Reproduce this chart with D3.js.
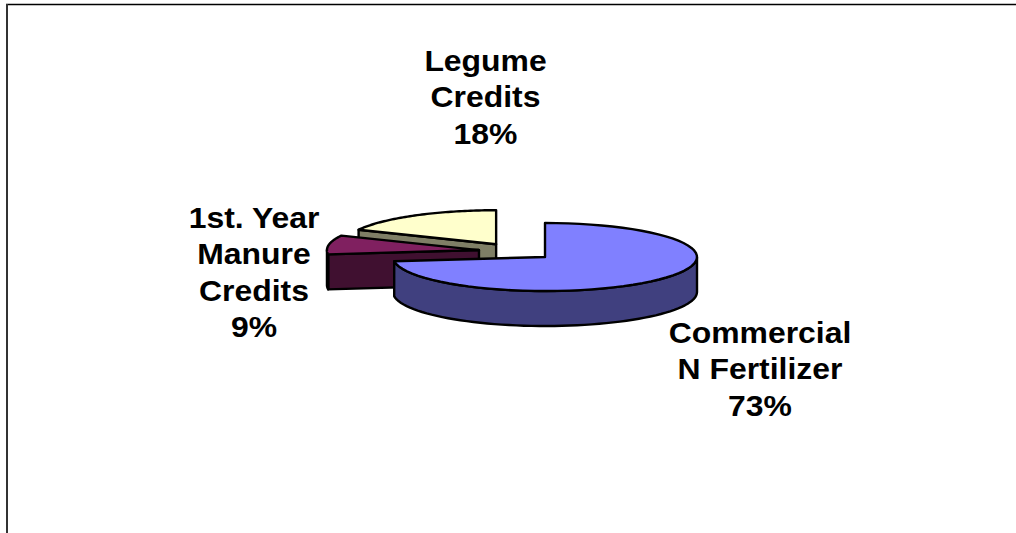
<!DOCTYPE html>
<html>
<head>
<meta charset="utf-8">
<script src="https://cdn.jsdelivr.net/npm/d3@7"></script>
<style>
  html, body { margin: 0; padding: 0; background: #fff; }
  svg { display: block; }
  text { font-family: "Liberation Sans", Arial, sans-serif; font-weight: bold; fill: #000; }
</style>
</head>
<body>
<div id="app"></div>
<script>
const width = 1016
const height = 533

// data, in the order the slices run clockwise from 12 o'clock
const categories = ['Commercial N Fertilizer', '1st. Year Manure Credits', 'Legume Credits']
const percents = [73, 9, 18]
const labelLines = [['Commercial', 'N Fertilizer', '73%'], ['1st. Year', 'Manure', 'Credits', '9%'], ['Legume', 'Credits', '18%']]
const topColors = ['#8080ff', '#802060', '#ffffcc']
const sideColors = ['#40407f', '#401030', '#7f7f66']

// where the middle of each label sits
const labelX = [760, 254, 485.5]
const labelY = [315, 200, 43]

const lineHeight = 36.5
const fontSize = 29
const textStretch = 1.1 // the labels in the picture are a bit wider than the font

// pie geometry
const center = { x: 516.5, y: 251.4 }
const rx = 152
const ry = 34
const depth = 35
const explode = 0.25

const svg = d3.select('#app').append('svg')
    .attr('width', width)
    .attr('height', height)

// frame, only the top and left edges are in the picture
svg.append('path')
    .attr('d', `M6,4.5H${width}`)
    .attr('fill', 'none')
    .attr('stroke', '#000')
    .attr('stroke-width', 1.5)
svg.append('path')
    .attr('d', `M7,4V${height}`)
    .attr('fill', 'none')
    .attr('stroke', '#333')
    .attr('stroke-width', 2)

// unit circle --> squashed ellipse on the page
const xScale = d3.scaleLinear().domain([-1, 1]).range([center.x - rx, center.x + rx])
const yScale = d3.scaleLinear().domain([-1, 1]).range([center.y - ry, center.y + ry])
const line = d3.line().x(d => d[0]).y(d => d[1])

const slices = d3.pie().sort(null).value(d => d)(percents).map(s => {
    const mid = (s.startAngle + s.endAngle) / 2
    return { ...s, ox: explode * Math.sin(mid), oy: -explode * Math.cos(mid) }
})

const rim = (s, a) => [xScale(s.ox + Math.sin(a)), yScale(s.oy - Math.cos(a))]
const apex = s => [xScale(s.ox), yScale(s.oy)]
const drop = p => [p[0], p[1] + depth]

const arcPoints = (s, a0, a1) => d3.range(0, 61).map(i => rim(s, a0 + (a1 - a0) * i / 60))

const outline = { stroke: '#000', 'stroke-width': 2.4, 'stroke-linejoin': 'round' }
function face(points, fill) {
    const p = svg.append('path')
        .attr('d', line(points) + 'Z')
        .attr('fill', fill)
    Object.entries(outline).forEach(([k, v]) => p.attr(k, v))
}

// back slices first so the front one covers them
const order = [2, 1, 0]
order.forEach(i => {
    const s = slices[i]
    const a = apex(s)

    // cut face on the start side shows when it turns toward the viewer
    if (Math.sin(s.startAngle) < 0) {
        const r = rim(s, s.startAngle)
        face([a, r, drop(r), drop(a)], sideColors[i])
    }

    // curved wall, only the front half (90deg to 270deg) can be seen
    const a0 = Math.max(s.startAngle, Math.PI / 2)
    const a1 = Math.min(s.endAngle, Math.PI * 1.5)
    if (a1 > a0) {
        const topEdge = arcPoints(s, a0, a1)
        face(topEdge.concat(topEdge.map(drop).reverse()), sideColors[i])
    }

    face([a].concat(arcPoints(s, s.startAngle, s.endAngle)), topColors[i])
})

// labels
svg.selectAll('text.label')
    .data(labelLines)
    .join('text')
    .attr('class', 'label')
    .attr('text-anchor', 'middle')
    .attr('font-size', fontSize)
    .attr('aria-label', (d, i) => categories[i])
    .attr('transform', (d, i) => `translate(${labelX[i]},${labelY[i]}) scale(${textStretch},1)`)
    .each(function(d, i) {
        d3.select(this).selectAll('tspan')
            .data(d)
            .join('tspan')
            .attr('x', 0)
            .attr('y', (t, j) => 28 + j * lineHeight)
            .text(t => t)
    })
</script>
</body>
</html>
